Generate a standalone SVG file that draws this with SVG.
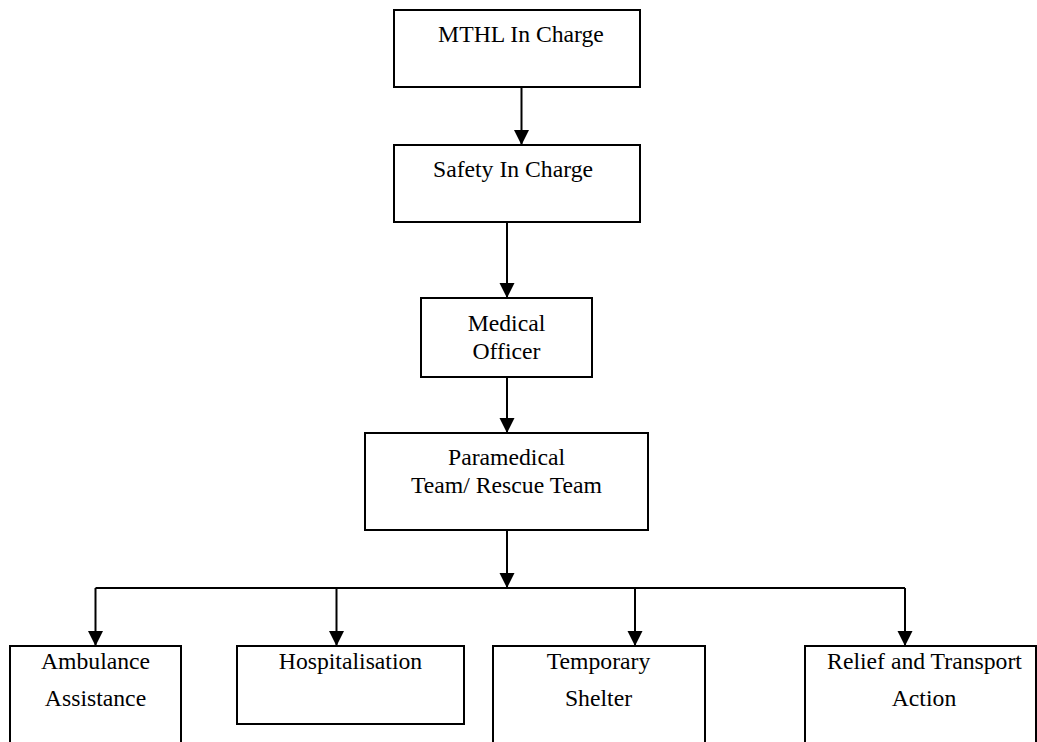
<svg xmlns="http://www.w3.org/2000/svg" width="1037" height="742" viewBox="0 0 1037 742">
<defs>
<marker id="arr" markerUnits="userSpaceOnUse" markerWidth="16" markerHeight="16" refX="15" refY="7.5" orient="auto">
<path d="M0,0 L15,7.5 L0,15 Z" fill="#000"/>
</marker>
<style>
rect{fill:#fff;stroke:#000;stroke-width:2}
text{font-family:"Liberation Serif","Times New Roman",serif;font-size:23.7px;fill:#000;text-anchor:middle}
.c line,.c path{stroke:#000;stroke-width:2;fill:none}
</style>
</defs>
<rect x="0" y="0" width="1037" height="742" style="fill:#fff;stroke:none"/>
<g class="c" id="connectors">
<line x1="521.5" y1="87" x2="521.5" y2="145" marker-end="url(#arr)"/>
<line x1="507" y1="222" x2="507" y2="298" marker-end="url(#arr)"/>
<line x1="507" y1="377" x2="507" y2="433" marker-end="url(#arr)"/>
<line x1="507" y1="530" x2="507" y2="588" marker-end="url(#arr)"/>
<path d="M95.5,588 H905"/>
<line x1="95.5" y1="588" x2="95.5" y2="646" marker-end="url(#arr)"/>
<line x1="336.5" y1="588" x2="336.5" y2="646" marker-end="url(#arr)"/>
<line x1="635" y1="588" x2="635" y2="646" marker-end="url(#arr)"/>
<line x1="905" y1="588" x2="905" y2="646" marker-end="url(#arr)"/>
</g>
<g id="mthl"><rect x="394" y="10" width="246" height="77"/><text x="521" y="41.7">MTHL In Charge</text></g>
<g id="safety"><rect x="394" y="145" width="246" height="77"/><text x="513" y="176.7">Safety In Charge</text></g>
<g id="medical"><rect x="421" y="298" width="171" height="79"/><text x="506.5" y="331">Medical</text><text x="506.5" y="359">Officer</text></g>
<g id="paramedical"><rect x="365" y="433" width="283" height="97"/><text x="506.5" y="465">Paramedical</text><text x="506.5" y="493">Team/ Rescue Team</text></g>
<g id="ambulance"><rect x="10" y="646" width="171" height="110"/><text x="95.5" y="669">Ambulance</text><text x="95.5" y="706">Assistance</text></g>
<g id="hospitalisation"><rect x="237" y="646" width="227" height="78"/><text x="350.5" y="669">Hospitalisation</text></g>
<g id="shelter"><rect x="493" y="646" width="212" height="110"/><text x="598.5" y="669">Temporary</text><text x="598.5" y="706">Shelter</text></g>
<g id="relief"><rect x="805" y="646" width="231" height="110"/><text x="924.5" y="669">Relief and Transport</text><text x="924" y="706">Action</text></g>
</svg>
